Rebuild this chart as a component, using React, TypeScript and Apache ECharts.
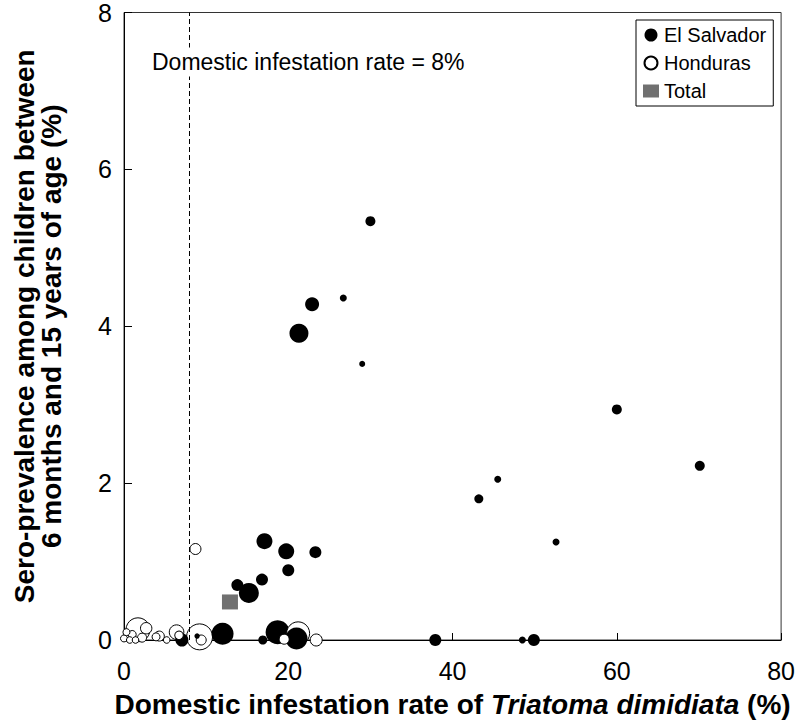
import React, { useEffect, useRef } from 'react';
import * as echarts from 'echarts';

// [infestation rate %, sero-prevalence %, relative bubble weight]
const elSalvador: number[][] = [
  [30.0, 5.34, 5],
  [26.7, 4.36, 3.5],
  [22.9, 4.28, 7],
  [21.3, 3.91, 9.5],
  [29.0, 3.52, 3],
  [60.0, 2.94, 5],
  [70.1, 2.22, 5],
  [45.5, 2.05, 3.5],
  [43.2, 1.8, 4.5],
  [52.6, 1.25, 3.5],
  [17.1, 1.26, 8],
  [19.75, 1.13, 8],
  [23.3, 1.12, 6],
  [20.0, 0.89, 6],
  [16.8, 0.77, 6],
  [13.8, 0.7, 6],
  [15.2, 0.6, 10],
  [37.9, 0, 6],
  [48.5, 0, 3.5],
  [49.9, 0, 6],
  [12.0, 0.08, 11],
  [7.05, 0, 6.5],
  [8.9, 0.05, 2.7],
  [16.9, 0, 4.5],
  [18.7, 0.1, 12],
  [21.0, 0.02, 11],
];

const honduras: number[][] = [
  [8.7, 1.16, 5.5],
  [1.7, 0.13, 12],
  [2.7, 0.15, 5.7],
  [0, 0.02, 3.5],
  [0.4, 0.04, 4.3],
  [0.7, 0, 3.3],
  [1.4, 0, 3.3],
  [1.0, 0.07, 4],
  [2.2, 0.03, 4.5],
  [0.3, 0.1, 3.5],
  [3.9, 0.04, 4],
  [4.3, 0.05, 5],
  [5.2, 0, 3.3],
  [6.4, 0.1, 7.3],
  [6.7, 0.06, 4.3],
  [9.2, 0.04, 13],
  [9.4, 0, 5],
  [21.2, 0.085, 11.5],
  [19.5, 0.01, 5],
  [23.4, 0, 6],
];

const total: number[][] = [[12.9, 0.485]];

const thresholdX = 8;
const xRange = { min: 0, max: 80, interval: 20 };
const yRange = { min: 0, max: 8, interval: 2 };

const FONT = '"Liberation Sans", Arial, sans-serif';

export default function App() {
  const ref = useRef<HTMLDivElement>(null);

  useEffect(() => {
    if (!ref.current) return;
    const chart = echarts.init(ref.current, undefined, { renderer: 'svg' });

    const esStyle = { color: '#000', borderColor: '#000', borderWidth: 0, opacity: 1 };
    const hnStyle = { color: '#fff', borderColor: '#000', borderWidth: 1, opacity: 1 };

    const combined = [
      ...elSalvador.map((p) => ({ value: p, itemStyle: esStyle })),
      ...honduras.map((p) => ({ value: p, itemStyle: hnStyle })),
    ].sort((a, b) => b.value[2] - a.value[2]);

    const option: any = {
      animation: false,
      backgroundColor: '#fff',
      textStyle: { fontFamily: FONT },
      grid: {
        left: 124,
        top: 9,
        width: 658,
        height: 631,
        show: true,
        borderColor: '#333',
        borderWidth: 1,
        backgroundColor: 'transparent',
      },
      legend: {
        left: 636,
        top: 20,
        orient: 'vertical',
        padding: [5, 7, 5, 7],
        itemGap: 8,
        itemWidth: 16,
        itemHeight: 13,
        borderColor: '#000',
        borderWidth: 1,
        selectedMode: false,
        textStyle: { fontSize: 20, color: '#000', fontFamily: FONT },
        data: [
          { name: 'El Salvador', icon: 'circle' },
          { name: 'Honduras', icon: 'circle' },
          { name: 'Total', icon: 'rect' },
        ],
      },
      xAxis: {
        type: 'value',
        ...xRange,
        axisLine: { show: true, onZero: false, lineStyle: { color: '#000', width: 1 } },
        axisTick: { show: true, inside: true, length: 7, lineStyle: { color: '#000' } },
        axisLabel: { fontSize: 25, color: '#000', margin: 18, fontFamily: FONT },
        splitLine: { show: false },
        name: 'Domestic infestation rate of {i|Triatoma dimidiata} (%)',
        nameLocation: 'middle',
        nameGap: 50,
        nameTextStyle: {
          fontSize: 28,
          fontWeight: 'bold',
          color: '#000',
          fontFamily: FONT,
          rich: {
            i: { fontSize: 28, fontWeight: 'bold', fontStyle: 'italic', color: '#000', fontFamily: FONT },
          },
        },
      },
      yAxis: {
        type: 'value',
        ...yRange,
        axisLine: { show: true, onZero: false, lineStyle: { color: '#000', width: 1 } },
        axisTick: { show: true, inside: true, length: 8, lineStyle: { color: '#000' } },
        axisLabel: { fontSize: 25, color: '#000', margin: 12, fontFamily: FONT },
        splitLine: { show: false },
        name: 'Sero-prevalence among children between\n6 months and 15 years of age (%)',
        nameLocation: 'middle',
        nameGap: 59,
        nameTextStyle: {
          fontSize: 28,
          fontWeight: 'bold',
          color: '#000',
          lineHeight: 27,
          fontFamily: FONT,
        },
      },
      graphic: [
        {
          type: 'text',
          x: 150,
          y: 62,
          z: 100,
          style: {
            text: 'Domestic infestation rate = 8%',
            fontSize: 23,
            fontFamily: FONT,
            fill: '#000',
            verticalAlign: 'middle',
            backgroundColor: '#fff',
            padding: [3, 2],
          },
        },
      ],
      series: [
        {
          type: 'scatter',
          name: 'El Salvador',
          data: [],
          itemStyle: esStyle,
        },
        {
          type: 'scatter',
          name: 'Honduras',
          data: [],
          itemStyle: hnStyle,
        },
        {
          type: 'scatter',
          name: 'points',
          clip: false,
          symbol: 'circle',
          symbolSize: (v: number[]) => v[2] * 2,
          data: combined,
          z: 3,
          markLine: {
            silent: true,
            symbol: ['none', 'none'],
            label: { show: false },
            lineStyle: { color: '#000', width: 1, type: [5, 3] },
            data: [{ xAxis: thresholdX }],
          },
        },
        {
          type: 'scatter',
          name: 'Total',
          symbol: 'rect',
          symbolSize: [16, 15],
          itemStyle: { color: '#707070', opacity: 1 },
          data: total,
          z: 4,
        },
      ],
    };

    chart.setOption(option);
    return () => chart.dispose();
  }, []);

  return (
    <div
      ref={ref}
      style={{ position: 'fixed', left: 0, top: 0, width: 798, height: 725 }}
    />
  );
}
